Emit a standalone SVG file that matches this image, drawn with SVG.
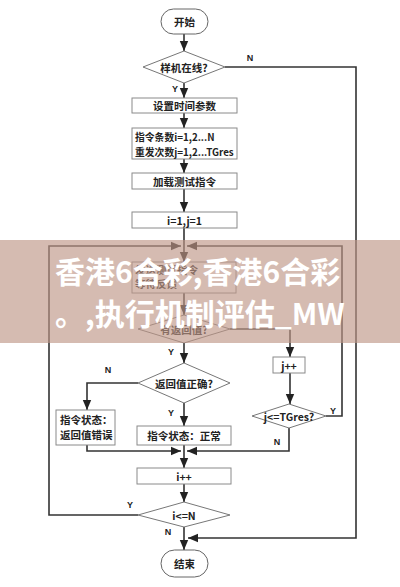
<svg xmlns="http://www.w3.org/2000/svg" width="400" height="587" viewBox="0 0 400 587">
<defs>
<style>
.box{fill:#fff;stroke:#8a8a8a;stroke-width:1}
.term{fill:#fff;stroke:#666;stroke-width:1}
.dia{fill:#fff;stroke:#777;stroke-width:1}
.t{font-family:"Noto Sans CJK SC","Noto Sans",sans-serif;font-size:10.5px;font-weight:700;fill:#222}
.s{font-size:9.8px}
.c{text-anchor:middle;dominant-baseline:central}
.lbl{font-family:"Liberation Sans","Noto Sans",sans-serif;font-size:9px;font-weight:700;fill:#222;text-anchor:middle;dominant-baseline:central}
.ln{fill:none;stroke:#333;stroke-width:1.6}
.ban{font-family:"Noto Sans CJK SC","Noto Sans",sans-serif;font-size:30px;font-weight:700;fill:#fff}
</style>
<marker id="ah" markerUnits="userSpaceOnUse" markerWidth="10" markerHeight="10" viewBox="0 0 10 10" refX="10" refY="5" orient="auto">
<path d="M0,0.8 L10,5 L0,9.2 Z" fill="#222"/>
</marker>
</defs>
<rect width="400" height="587" fill="#fff"/>

<g id="connectors">
<path class="ln" d="M184,34 V51" marker-end="url(#ah)"/>
<path class="ln" d="M184,83 V98" marker-end="url(#ah)"/>
<path class="ln" d="M184,113 V128" marker-end="url(#ah)"/>
<path class="ln" d="M184,159 V173" marker-end="url(#ah)"/>
<path class="ln" d="M184,189 V212" marker-end="url(#ah)"/>
<path class="ln" d="M184,228 V262" marker-end="url(#ah)"/>
<path class="ln" d="M138,515 H49 V246 H181" marker-end="url(#ah)"/>
<path class="ln" d="M326,416 H342 V246 H187" marker-end="url(#ah)"/>
<path class="ln" d="M184,293 V315" marker-end="url(#ah)"/>
<path class="ln" d="M184,343 V363" marker-end="url(#ah)"/>
<path class="ln" d="M230,329 H290 V357" marker-end="url(#ah)"/>
<path class="ln" d="M290,373 V404" marker-end="url(#ah)"/>
<path class="ln" d="M138,383 H87 V410" marker-end="url(#ah)"/>
<path class="ln" d="M184,403 V426" marker-end="url(#ah)"/>
<path class="ln" d="M87,445 V451 H181" marker-end="url(#ah)"/>
<path class="ln" d="M289,428 V451 H187" marker-end="url(#ah)"/>
<path class="ln" d="M184,445 V468" marker-end="url(#ah)"/>
<path class="ln" d="M184,484 V502" marker-end="url(#ah)"/>
<path class="ln" d="M184,527 V550" marker-end="url(#ah)"/>
<path class="ln" d="M225,67 H356 V538 H188" marker-end="url(#ah)"/>
<text class="lbl" x="250" y="58">N</text>
<text class="lbl" x="175" y="89">Y</text>
<text class="lbl" x="171" y="352">Y</text>
<text class="lbl" x="108" y="370">N</text>
<text class="lbl" x="171" y="413">Y</text>
<text class="lbl" x="333" y="411">Y</text>
<text class="lbl" x="277" y="442">N</text>
<text class="lbl" x="130" y="505">Y</text>
<text class="lbl" x="168" y="532">N</text>
</g>

<g id="start"><rect class="term" x="161" y="9" width="47" height="25" rx="12.5"/><text class="t c" x="184.5" y="21.5">开始</text></g>
<g id="online"><path class="dia" d="M184,51 L225,67 L184,83 L143,67 Z"/><text class="t c" x="184" y="67">样机在线?</text></g>
<g id="settime"><rect class="box" x="132" y="98" width="105" height="15"/><text class="t c" x="184.5" y="105.5">设置时间参数</text></g>
<g id="params"><rect class="box" x="132" y="128" width="105" height="31"/><text class="t s" x="135" y="141">指令条数i=1,2...N</text><text class="t s" x="135" y="155.5">重发次数j=1,2...TGres</text></g>
<g id="load"><rect class="box" x="132" y="173" width="105" height="16"/><text class="t c" x="184.5" y="181">加载测试指令</text></g>
<g id="init"><rect class="box" x="132" y="212" width="105" height="16"/><text class="t c" x="184.5" y="220">i=1,j=1</text></g>
<g id="send"><rect class="box" x="132" y="262" width="104" height="31"/><text class="t" x="135" y="274">发送测试指令</text><text class="t" x="135" y="288">等待反馈</text></g>
<g id="hasret"><path class="dia" d="M184,315 L230,329 L184,343 L138,329 Z"/><text class="t c" x="184" y="329">有返回值?</text></g>
<g id="retok"><path class="dia" d="M184,363 L230,383 L184,403 L138,383 Z"/><text class="t c" x="184" y="383">返回值正确?</text></g>
<g id="err"><rect class="box" x="56" y="410" width="59" height="35"/><text class="t" x="60" y="424">指令状态：</text><text class="t" x="60" y="439">返回值错误</text></g>
<g id="normal"><rect class="box" x="137" y="426" width="94" height="19"/><text class="t c" x="184" y="435.5">指令状态：正常</text></g>
<g id="jinc"><rect class="box" x="273" y="357" width="32" height="16"/><text class="t c" x="289" y="365">j++</text></g>
<g id="jcheck"><path class="dia" d="M289,404 L326,416 L289,428 L252,416 Z"/><text class="t c" x="289" y="416">j&lt;=TGres?</text></g>
<g id="iinc"><rect class="box" x="137" y="468" width="94" height="16"/><text class="t c" x="184" y="476">i++</text></g>
<g id="icheck"><path class="dia" d="M184,502 L230,515 L184,527 L138,515 Z"/><text class="t c" x="184" y="515">i&lt;=N</text></g>
<g id="end"><rect class="term" x="161" y="550" width="47" height="27" rx="13.5"/><text class="t c" x="184.5" y="563.5">结束</text></g>

<g id="banner">
<rect x="0" y="240" width="400" height="103" fill="rgb(190,150,135)" fill-opacity="0.65"/>
<text class="ban" x="55" y="283">香港6合彩,香港6合彩</text>
<text class="ban" x="55" y="325">。,执行机制评估_MW</text>
</g>
</svg>
